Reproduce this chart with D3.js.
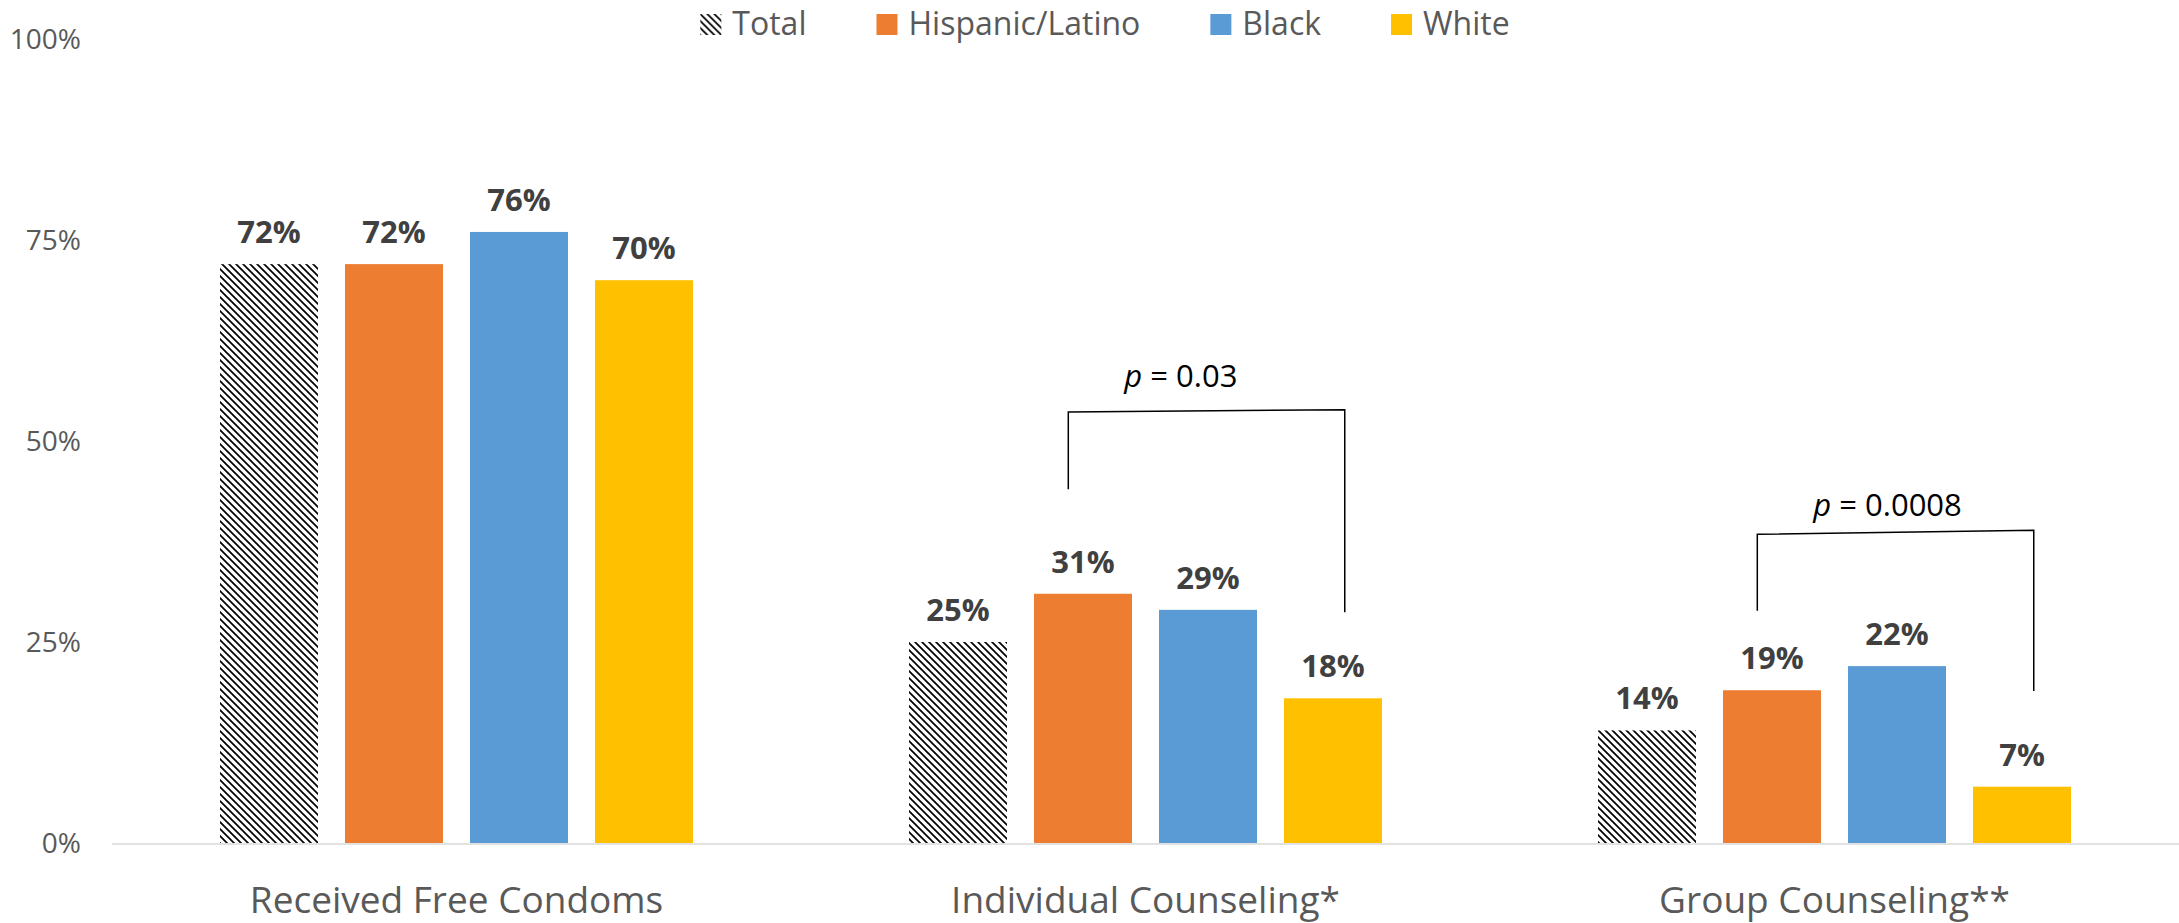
<!DOCTYPE html>
<html>
<head>
<meta charset="utf-8">
<script src="https://cdn.jsdelivr.net/npm/d3@7"></script>
<style>
  html, body { margin: 0; padding: 0; background: #fff; }
  svg { display: block; }
  text { font-family: "Open Sans", "Noto Sans", sans-serif; }
</style>
</head>
<body>
<svg id="chart" width="2179" height="923"></svg>
<script>
// ---- data ----
const categories = ["Received Free Condoms", "Individual Counseling*", "Group Counseling**"];
const seriesNames = ["Total", "Hispanic/Latino", "Black", "White"];
const totalValues    = [0.72, 0.25, 0.14];
const hispanicValues = [0.72, 0.31, 0.19];
const blackValues    = [0.76, 0.29, 0.22];
const whiteValues    = [0.70, 0.18, 0.07];
const yTicks = [0, 0.25, 0.5, 0.75, 1];
// significance annotations (category, p label, bracket top, left leg bottom, right leg bottom, text baseline) in value units
const pCategories   = ["Individual Counseling*", "Group Counseling**"];
const pLabels       = ["0.03", "0.0008"];
const pTopLeft      = [0.536, 0.384];
const pTopRight     = [0.539, 0.389];
const pLeftBottom   = [0.440, 0.289];
const pRightBottom  = [0.287, 0.189];
const pTextBaseline = [0.567, 0.407];

const seriesValues = [totalValues, hispanicValues, blackValues, whiteValues];
const colors = {"Total": "url(#hatch)", "Hispanic/Latino": "#ED7D31", "Black": "#5B9BD5", "White": "#FFC000"};

const svg = d3.select("#chart");
const W = 2179, H = 923;
const plotLeft = 112, plotRight = 2179, baseY = 843, topY = 39;

// pattern
const defs = svg.append("defs");
const pat = defs.append("pattern").attr("id", "hatch").attr("patternUnits", "userSpaceOnUse")
  .attr("width", 7).attr("height", 7);
pat.append("rect").attr("width", 7).attr("height", 7).attr("fill", "#fff");
pat.append("path").attr("d", "M-1,-1 L8,8 M-1,6 L1,8 M6,-1 L8,1")
  .attr("stroke", "#000").attr("stroke-width", 1.7);

const x0 = d3.scaleBand().domain(categories).range([plotLeft, plotRight]).paddingInner(0).paddingOuter(0);
const x1 = d3.scaleBand().domain(seriesNames).range([0, x0.bandwidth()]).paddingInner(0.216).paddingOuter(0.864);
const y = d3.scaleLinear().domain([0, 1]).range([baseY, topY]);

// y axis labels
const yAxis = d3.axisLeft(y).tickValues(yTicks).tickFormat(d3.format(".0%")).tickSize(0).tickPadding(0);
const yg = svg.append("g").attr("transform", "translate(81,0)").call(yAxis);
yg.select(".domain").remove();
yg.selectAll("text").attr("font-size", 28).attr("fill", "#595959")
  .attr("font-family", "'Open Sans', sans-serif").attr("dy", "0.35em");

// bars
const rows = [];
categories.forEach((c, ci) => seriesNames.forEach((s, si) => rows.push({cat: c, series: s, value: seriesValues[si][ci]})));

svg.append("g").selectAll("rect").data(rows).join("rect")
  .attr("x", d => x0(d.cat) + x1(d.series))
  .attr("y", d => y(d.value))
  .attr("width", x1.bandwidth())
  .attr("height", d => baseY - y(d.value))
  .attr("fill", d => colors[d.series]);

// value labels
svg.append("g").selectAll("text").data(rows).join("text")
  .attr("x", d => x0(d.cat) + x1(d.series) + x1.bandwidth() / 2)
  .attr("y", d => y(d.value) - 21)
  .attr("text-anchor", "middle")
  .attr("font-size", 31).attr("font-weight", "bold").attr("fill", "#404040")
  .text(d => d3.format(".0%")(d.value));

// x axis line
svg.append("line").attr("x1", plotLeft).attr("x2", plotRight).attr("y1", baseY + 1).attr("y2", baseY + 1)
  .attr("stroke", "#d9d9d9").attr("stroke-width", 1.5);

// category labels
const xAxis = d3.axisBottom(x0).tickSize(0).tickPadding(0);
const xg = svg.append("g").attr("transform", `translate(0,${baseY})`).call(xAxis);
xg.select(".domain").remove();
xg.selectAll("text").attr("font-size", 37).attr("fill", "#595959")
  .attr("font-family", "'Open Sans', sans-serif").attr("dy", null).attr("y", 70);

// significance brackets
const bw = x1.bandwidth();
pCategories.forEach((c, i) => {
  const xl = x0(c) + x1("Hispanic/Latino") + bw * 0.35;
  const xr = x0(c) + x1("White") + bw * 0.62;
  svg.append("path")
    .attr("d", `M${xl},${y(pLeftBottom[i])} L${xl},${y(pTopLeft[i])} L${xr},${y(pTopRight[i])} L${xr},${y(pRightBottom[i])}`)
    .attr("fill", "none").attr("stroke", "#000").attr("stroke-width", 1.5);
  const t = svg.append("text").attr("x", xl + 56).attr("y", y(pTextBaseline[i]))
    .attr("font-size", 31).attr("fill", "#000");
  t.append("tspan").attr("font-style", "italic").text("p");
  t.append("tspan").text(" = " + pLabels[i]);
});

// legend
const legend = svg.append("g");
let lx = 0;
seriesNames.forEach(s => {
  const g = legend.append("g");
  g.append("rect").attr("x", 0).attr("y", 14).attr("width", 21).attr("height", 21).attr("fill", colors[s]);
  const t = g.append("text").attr("x", 32).attr("y", 35).attr("font-size", 32).attr("fill", "#595959").text(s);
  const w = 32 + t.node().getComputedTextLength();
  g.attr("transform", `translate(${lx},0)`);
  lx += w + 70;
});
const totalW = lx - 70;
legend.attr("transform", `translate(${1105 - totalW / 2},0)`);
</script>
</body>
</html>
